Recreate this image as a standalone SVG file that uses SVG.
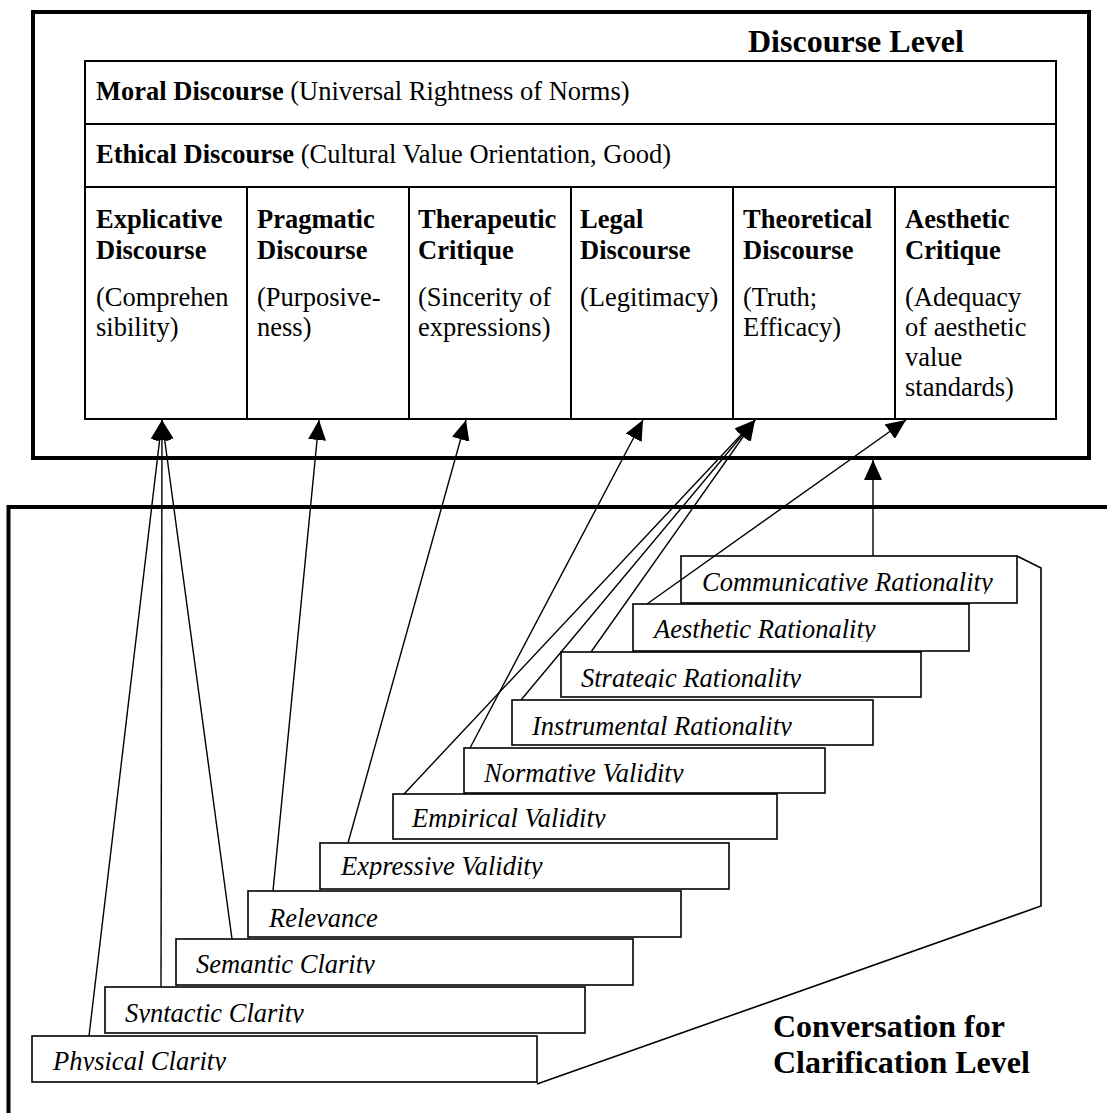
<svg xmlns="http://www.w3.org/2000/svg" width="1107" height="1113" viewBox="0 0 1107 1113">
<style>
.frame{fill:none;stroke:#000;stroke-width:4}
.cell{fill:#fff;stroke:#000;stroke-width:2}
.step{fill:#fff;stroke:#000;stroke-width:1.6}
.b{font-family:"Liberation Serif","Times New Roman",serif;font-weight:bold;font-size:26.5px;fill:#000}
.r{font-family:"Liberation Serif","Times New Roman",serif;font-size:26.5px;fill:#000}
.i{font-family:"Liberation Serif","Times New Roman",serif;font-style:italic;font-size:26.5px;fill:#000}
.title{font-family:"Liberation Serif","Times New Roman",serif;font-weight:bold;font-size:32px;fill:#000}
.conn line{stroke:#000;stroke-width:1.4;fill:none}
.outline{fill:none;stroke:#000;stroke-width:1.6}
</style>
<defs>
<marker id="ah" viewBox="0 0 20 18" markerWidth="20" markerHeight="18" refX="20" refY="9" orient="auto" markerUnits="userSpaceOnUse"><path d="M0,0 L20,9 L0,18 z" fill="#000"/></marker>
<clipPath id="c-comm"><rect x="681" y="556" width="336" height="38"/></clipPath>
<clipPath id="c-aest"><rect x="633" y="604" width="336" height="38"/></clipPath>
<clipPath id="c-strat"><rect x="561" y="652" width="360" height="36"/></clipPath>
<clipPath id="c-instr"><rect x="512" y="700" width="361" height="36"/></clipPath>
<clipPath id="c-norm"><rect x="464" y="748" width="361" height="35"/></clipPath>
<clipPath id="c-emp"><rect x="393" y="794" width="384" height="34"/></clipPath>
<clipPath id="c-expr"><rect x="320" y="843" width="409" height="36"/></clipPath>
<clipPath id="c-rel"><rect x="248" y="891" width="433" height="45"/></clipPath>
<clipPath id="c-sem"><rect x="176" y="939" width="457" height="35"/></clipPath>
<clipPath id="c-syn"><rect x="105" y="987" width="480" height="36"/></clipPath>
<clipPath id="c-phys"><rect x="32" y="1036" width="505" height="35"/></clipPath>
</defs>
<rect width="1107" height="1113" fill="#fff"/>

<g id="discourse-level">
<rect class="frame" x="33" y="12" width="1056" height="446"/>
<text class="title" x="748" y="52">Discourse Level</text>
</g>

<g id="moral-discourse">
<rect class="cell" x="85" y="61" width="971" height="63"/>
<text x="96" y="100"><tspan class="b">Moral Discourse</tspan><tspan class="r"> (Universal Rightness of Norms)</tspan></text>
</g>
<g id="ethical-discourse">
<rect class="cell" x="85" y="124" width="971" height="63"/>
<text x="96" y="163"><tspan class="b">Ethical Discourse</tspan><tspan class="r"> (Cultural Value Orientation, Good)</tspan></text>
</g>
<g id="explicative-discourse">
<rect class="cell" x="85" y="187" width="162" height="232"/>
<text class="b" x="96" y="228">Explicative<tspan x="96" y="259">Discourse</tspan></text>
<text class="r" x="96" y="306">(Comprehen<tspan x="96" y="336">sibility)</tspan></text>
</g>
<g id="pragmatic-discourse">
<rect class="cell" x="247" y="187" width="162" height="232"/>
<text class="b" x="257" y="228">Pragmatic<tspan x="257" y="259">Discourse</tspan></text>
<text class="r" x="257" y="306">(Purposive-<tspan x="257" y="336">ness)</tspan></text>
</g>
<g id="therapeutic-critique">
<rect class="cell" x="409" y="187" width="162" height="232"/>
<text class="b" x="418" y="228">Therapeutic<tspan x="418" y="259">Critique</tspan></text>
<text class="r" x="418" y="306">(Sincerity of<tspan x="418" y="336">expressions)</tspan></text>
</g>
<g id="legal-discourse">
<rect class="cell" x="571" y="187" width="162" height="232"/>
<text class="b" x="580" y="228">Legal<tspan x="580" y="259">Discourse</tspan></text>
<text class="r" x="580" y="306">(Legitimacy)</text>
</g>
<g id="theoretical-discourse">
<rect class="cell" x="733" y="187" width="162" height="232"/>
<text class="b" x="743" y="228">Theoretical<tspan x="743" y="259">Discourse</tspan></text>
<text class="r" x="743" y="306">(Truth;<tspan x="743" y="336">Efficacy)</tspan></text>
</g>
<g id="aesthetic-critique">
<rect class="cell" x="895" y="187" width="161" height="232"/>
<text class="b" x="905" y="228">Aesthetic<tspan x="905" y="259">Critique</tspan></text>
<text class="r" x="905" y="306">(Adequacy<tspan x="905" y="336">of aesthetic</tspan><tspan x="905" y="366">value</tspan><tspan x="905" y="396">standards)</tspan></text>
</g>

<g id="clarification-level">
<path class="frame" d="M8.5,1113 V507 H1107"/>
<path class="outline" d="M1017,556 L1041,568 L1041,906 L537,1084"/>
<text class="title" x="773" y="1037">Conversation for<tspan x="773" y="1073">Clarification Level</tspan></text>
</g>

<g id="communicative-rationality">
<rect class="step" x="681" y="556" width="336" height="47"/>
<text class="i" x="702" y="591" clip-path="url(#c-comm)">Communicative Rationality</text>
</g>
<g id="aesthetic-rationality">
<rect class="step" x="633" y="604" width="336" height="47"/>
<text class="i" x="654" y="638" clip-path="url(#c-aest)">Aesthetic Rationality</text>
</g>
<g id="strategic-rationality">
<rect class="step" x="561" y="652" width="360" height="45"/>
<text class="i" x="581" y="687" clip-path="url(#c-strat)">Strategic Rationality</text>
</g>
<g id="instrumental-rationality">
<rect class="step" x="512" y="700" width="361" height="45"/>
<text class="i" x="532" y="735" clip-path="url(#c-instr)">Instrumental Rationality</text>
</g>
<g id="normative-validity">
<rect class="step" x="464" y="748" width="361" height="45"/>
<text class="i" x="484" y="782" clip-path="url(#c-norm)">Normative Validity</text>
</g>
<g id="empirical-validity">
<rect class="step" x="393" y="794" width="384" height="45"/>
<text class="i" x="412" y="827" clip-path="url(#c-emp)">Empirical Validity</text>
</g>
<g id="expressive-validity">
<rect class="step" x="320" y="843" width="409" height="46"/>
<text class="i" x="341" y="875" clip-path="url(#c-expr)">Expressive Validity</text>
</g>
<g id="relevance">
<rect class="step" x="248" y="891" width="433" height="46"/>
<text class="i" x="269" y="927" clip-path="url(#c-rel)">Relevance</text>
</g>
<g id="semantic-clarity">
<rect class="step" x="176" y="939" width="457" height="46"/>
<text class="i" x="196" y="973" clip-path="url(#c-sem)">Semantic Clarity</text>
</g>
<g id="syntactic-clarity">
<rect class="step" x="105" y="987" width="480" height="46"/>
<text class="i" x="125" y="1022" clip-path="url(#c-syn)">Syntactic Clarity</text>
</g>
<g id="physical-clarity">
<rect class="step" x="32" y="1036" width="505" height="46"/>
<text class="i" x="53" y="1070" clip-path="url(#c-phys)">Physical Clarity</text>
</g>

<g id="connectors" class="conn">
<line x1="89" y1="1036" x2="162" y2="420" marker-end="url(#ah)"/>
<line x1="161" y1="987" x2="162" y2="420" marker-end="url(#ah)"/>
<line x1="232" y1="939" x2="162" y2="420" marker-end="url(#ah)"/>
<line x1="273" y1="891" x2="319" y2="420" marker-end="url(#ah)"/>
<line x1="348" y1="843" x2="466" y2="420" marker-end="url(#ah)"/>
<line x1="470" y1="748" x2="643" y2="420" marker-end="url(#ah)"/>
<line x1="404" y1="794" x2="755" y2="420" marker-end="url(#ah)"/>
<line x1="521" y1="700" x2="755" y2="420" marker-end="url(#ah)"/>
<line x1="591" y1="652" x2="755" y2="420" marker-end="url(#ah)"/>
<line x1="647" y1="604" x2="906" y2="420" marker-end="url(#ah)"/>
<line x1="873" y1="556" x2="873" y2="460" marker-end="url(#ah)"/>
</g>
</svg>
